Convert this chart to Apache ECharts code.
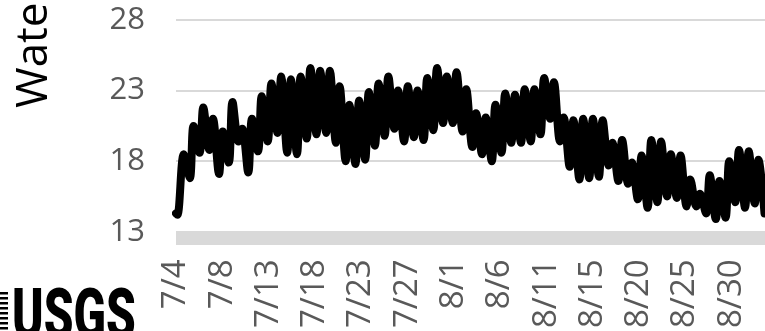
<!DOCTYPE html>
<html>
<head>
<meta charset="utf-8">
<script src="https://cdn.jsdelivr.net/npm/echarts@6/dist/echarts.min.js"></script>
<style>
  html, body { margin: 0; padding: 0; background: #ffffff; }
  #chart { width: 765px; height: 331px; }
</style>
</head>
<body>
<div id="chart"></div>
<script>
// Tick labels along the time axis (one every 4.75 days of record)
const dateLabels = ['7/4', '7/8', '7/13', '7/18', '7/23', '7/27', '8/1', '8/6', '8/11', '8/15', '8/20', '8/25', '8/30'];
const labelStepDays = 4.75;

// Water temperature, °C
const firstReading = 14.3;
// Daily minimum (early morning) and maximum (late afternoon)
const dailyLow = [
  14.2, 16.8, 18.6, 18.8, 17.1, 17.9, 19.4, 17.2, 18.7, 19.4,
  20.0, 18.6, 18.5, 19.6, 19.9, 20.0, 19.3, 18.0, 17.8, 18.1,
  19.1, 19.8, 20.3, 19.4, 19.7, 19.5, 20.2, 20.7, 20.7, 20.1,
  19.0, 18.5, 18.0, 18.6, 19.3, 19.3, 19.4, 19.9, 21.0, 19.4,
  17.6, 16.7, 16.8, 16.9, 17.7, 16.6, 16.4, 15.3, 14.7, 15.1,
  15.5, 15.4, 14.8, 14.8, 14.3, 13.9, 14.0, 15.1, 14.7, 15.0,
  14.3
];
const dailyHigh = [
  18.5, 20.5, 21.8, 21.0, 20.1, 22.2, 20.3, 21.0, 22.6, 23.5,
  24.0, 23.8, 24.0, 24.6, 24.4, 24.4, 23.3, 22.0, 22.3, 22.9,
  23.5, 24.0, 23.0, 23.3, 23.0, 23.9, 24.6, 24.0, 24.3, 23.1,
  21.4, 21.1, 22.0, 22.8, 22.7, 23.1, 23.1, 23.9, 23.6, 21.1,
  20.9, 21.0, 21.0, 20.9, 19.3, 19.5, 17.9, 18.4, 19.5, 19.4,
  18.5, 18.4, 16.7, 15.7, 17.0, 16.6, 18.0, 18.8, 18.7, 18.1
];
// Time of the daily low / high, in days after the day's first hour of record
const firstLowAt = 0.15;
const lowAt = 0.42;
const highAt = 0.8;

const yTicks = { min: 13, max: 28, step: 5 };
const recordLengthDays = 60.47;

// Assemble the diurnal series: [days since first reading, °C]
const series = [[0, firstReading]];
for (let k = 0; k < dailyLow.length; k++) {
  series.push([k + (k === 0 ? firstLowAt : lowAt), dailyLow[k]]);
  if (k < dailyHigh.length) series.push([k + highAt, dailyHigh[k]]);
}

const chart = echarts.init(document.getElementById('chart'), null, { renderer: 'canvas' });
const tickFont = 'Open Sans';

chart.setOption({
  animation: false,
  backgroundColor: '#ffffff',
  grid: { left: 176, right: 0, top: 20, bottom: 97, containLabel: false },
  xAxis: {
    type: 'value',
    min: 0,
    max: recordLengthDays,
    interval: labelStepDays,
    offset: 6.5,
    axisLine: { show: true, lineStyle: { color: '#d9d9d9', width: 13, cap: 'butt' } },
    axisTick: { show: false },
    splitLine: { show: false },
    axisLabel: {
      rotate: 90,
      margin: 21,
      color: '#595959',
      fontFamily: tickFont,
      fontSize: 33,
      showMaxLabel: false,
      formatter: function (v) {
        const i = Math.round(v / labelStepDays);
        if (Math.abs(i * labelStepDays - v) > 1e-6) return '';
        return dateLabels[i] || '';
      }
    }
  },
  yAxis: {
    type: 'value',
    min: yTicks.min,
    max: yTicks.max,
    interval: yTicks.step,
    axisLine: { show: false },
    axisTick: { show: false },
    splitLine: { show: true, lineStyle: { color: '#d9d9d9', width: 2 } },
    axisLabel: {
      margin: 31,
      padding: [12, 0, 0, 0],
      color: '#595959',
      fontFamily: tickFont,
      fontSize: 31
    }
  },
  series: [{
    type: 'line',
    data: series,
    showSymbol: false,
    smooth: 0.35,
    clip: true,
    lineStyle: { color: '#000000', width: 8, cap: 'round', join: 'round' }
  }],
  graphic: [
    {
      type: 'text',
      x: 34,
      y: 108,
      rotation: Math.PI / 2,
      style: {
        text: 'Water Temperature (°C)',
        font: '44px "Open Sans"',
        fill: '#000000',
        align: 'left',
        verticalAlign: 'middle'
      }
    },
    {
      type: 'text',
      x: 12,
      y: 285,
      scaleX: 0.68,
      style: {
        text: 'USGS',
        font: '900 70px Roboto',
        fill: '#000000',
        align: 'left',
        verticalAlign: 'top'
      }
    },
    { type: 'rect', shape: { x: 0, y: 292, width: 8, height: 2.5 }, style: { fill: '#000' } },
    { type: 'rect', shape: { x: 0, y: 297, width: 8, height: 2.5 }, style: { fill: '#000' } },
    { type: 'rect', shape: { x: 0, y: 302, width: 8, height: 2.5 }, style: { fill: '#000' } },
    { type: 'rect', shape: { x: 0, y: 307, width: 8, height: 2.5 }, style: { fill: '#000' } },
    { type: 'rect', shape: { x: 0, y: 312, width: 8, height: 2.5 }, style: { fill: '#000' } },
    { type: 'rect', shape: { x: 0, y: 317, width: 8, height: 2.5 }, style: { fill: '#000' } },
    { type: 'rect', shape: { x: 0, y: 322, width: 8, height: 2.5 }, style: { fill: '#000' } },
    { type: 'rect', shape: { x: 0, y: 327, width: 8, height: 2.5 }, style: { fill: '#000' } }
  ]
});
</script>
</body>
</html>
